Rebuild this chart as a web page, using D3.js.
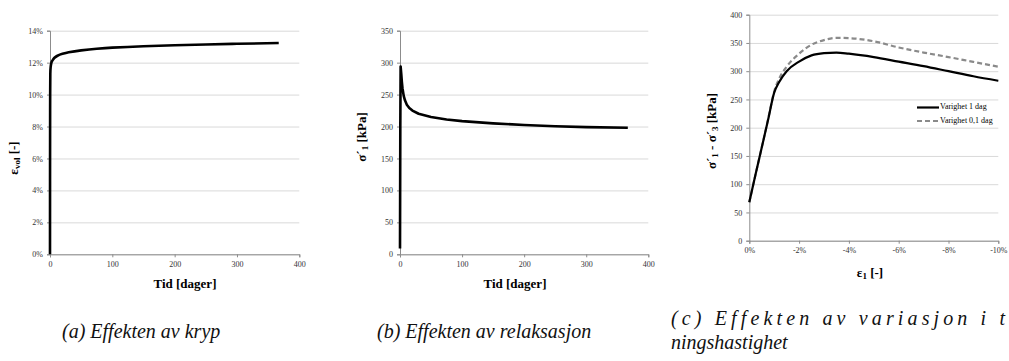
<!DOCTYPE html>
<html>
<head>
<meta charset="utf-8">
<script src="https://cdn.jsdelivr.net/npm/d3@7"></script>
</head>
<body style="margin:0">
<svg id="fig" width="1009" height="361" style="display:block; font-family: 'Liberation Serif', Tinos, 'Times New Roman', Times;"></svg>
<script>
// (a) creep: volumetric strain over time
const creepDays   = [0, 0.2, 0.5, 1, 2, 3, 5, 8, 12, 20, 30, 50, 75, 100, 150, 200, 250, 300, 367];
const creepStrain = [0, 0.090, 0.113, 0.117, 0.1195, 0.1208, 0.122, 0.1233, 0.1243, 0.1255, 0.1265, 0.1277, 0.1287, 0.1294, 0.1303, 0.1309, 0.1314, 0.1318, 0.1323];

// (b) relaxation: effective axial stress over time
const relaxDays   = [0, 0.5, 1, 2, 3, 4, 6, 8, 11, 15, 20, 30, 50, 75, 100, 150, 200, 250, 300, 367];
const relaxStress = [9, 200, 294, 283, 270, 260, 248, 241, 234, 229, 225, 220, 215, 211, 208.5, 205, 202.5, 200.5, 199, 198];

// (c) deviator stress vs axial strain for two load durations
const axialStrain = [0, -0.0025, -0.005, -0.0075, -0.010, -0.012, -0.015, -0.020, -0.025, -0.030, -0.035, -0.040, -0.050, -0.060, -0.070, -0.080, -0.090, -0.100];
const dev1Day     = [68, 117, 165, 213, 262, 281, 300, 317, 328, 332, 333, 331, 325, 317, 309, 300, 291, 283];
const dev01Day    = [68, 117, 165, 214, 264, 287, 308, 331, 347, 355, 359, 358.5, 353, 342, 333, 325, 316.5, 308];
const seriesNames = ["Varighet 1 dag", "Varighet 0,1 dag"];

// tick values
const timeTicks   = [0, 100, 200, 300, 400];
const creepTicks  = [0, 0.02, 0.04, 0.06, 0.08, 0.10, 0.12, 0.14];
const relaxTicks  = [0, 50, 100, 150, 200, 250, 300, 350];
const strainTicks = [0, -0.02, -0.04, -0.06, -0.08, -0.10];
const devTicks    = [0, 50, 100, 150, 200, 250, 300, 350, 400];

// sub-figure captions; the first line of (c) is justified to the given width
const captions = [
  { lines: ["(a) Effekten av kryp"], x: 62, y: [338], len: [null] },
  { lines: ["(b) Effekten av relaksasjon"], x: 377, y: [338], len: [null] },
  { lines: ["(c) Effekten av variasjon i t", "ningshastighet"], x: 671, y: [325, 349], len: [334, null] }
];

const svg = d3.select("#fig");
const GRID = "#d9d9d9", AXIS = "#8c8c8c", TICKTXT = "#333";

function panel(opt) {
  const g = svg.append("g");
  const x = d3.scaleLinear().domain(opt.xDomain).range(opt.xRange);
  const y = d3.scaleLinear().domain(opt.yDomain).range(opt.yRange);

  // horizontal gridlines
  g.append("g")
    .attr("transform", `translate(${opt.xRange[0]},0)`)
    .call(d3.axisLeft(y).tickValues(opt.yTicks).tickSize(-(opt.xRange[1] - opt.xRange[0])).tickFormat(""))
    .call(a => a.attr("font-family", null))
    .call(a => a.select(".domain").remove())
    .call(a => a.selectAll("line").attr("stroke", GRID).attr("stroke-width", 1));

  // y axis (labels inherit the figure's serif face)
  g.append("g")
    .attr("transform", `translate(${opt.xRange[0]},0)`)
    .call(d3.axisLeft(y).tickValues(opt.yTicks).tickSize(3).tickPadding(4).tickFormat(opt.yFormat))
    .call(a => a.attr("font-family", null).attr("font-size", 8))
    .call(a => a.select(".domain").attr("stroke", AXIS))
    .call(a => a.selectAll("line").attr("stroke", AXIS))
    .call(a => a.selectAll("text").attr("fill", TICKTXT));

  // x axis
  g.append("g")
    .attr("transform", `translate(0,${opt.yRange[0]})`)
    .call(d3.axisBottom(x).tickValues(opt.xTicks).tickSize(3).tickPadding(4).tickFormat(opt.xFormat))
    .call(a => a.attr("font-family", null).attr("font-size", 8))
    .call(a => a.select(".domain").attr("stroke", AXIS))
    .call(a => a.selectAll("line").attr("stroke", AXIS))
    .call(a => a.selectAll("text").attr("fill", TICKTXT));

  // axis titles
  const xt = g.append("text")
    .attr("x", opt.xTitlePos[0]).attr("y", opt.xTitlePos[1])
    .attr("text-anchor", "middle").attr("dominant-baseline", "middle")
    .attr("font-weight", "bold").attr("font-size", 13);
  opt.xTitle(xt);

  const yt = g.append("text")
    .attr("transform", `translate(${opt.yTitlePos[0]},${opt.yTitlePos[1]}) rotate(-90)`)
    .attr("text-anchor", "middle").attr("dominant-baseline", "middle")
    .attr("font-weight", "bold").attr("font-size", 13);
  opt.yTitle(yt);

  return { g, x, y };
}

const sub = (t, s, rest) => sel => {
  sel.append("tspan").text(t);
  sel.append("tspan").attr("font-size", 9).attr("dy", 3).text(s);
  sel.append("tspan").attr("dy", -3).text(rest);
};

// ---------- (a) ----------
const A = panel({
  xDomain: [0, 400], xRange: [50, 299.3],
  yDomain: [0, 0.14], yRange: [254.3, 30.7],
  xTicks: timeTicks, yTicks: creepTicks,
  xFormat: d3.format("d"), yFormat: d => Math.round(d * 100) + "%",
  xTitlePos: [185, 285], yTitlePos: [15, 158],
  xTitle: t => t.text("Tid [dager]"),
  yTitle: sub("ε", "vol", " [-]")
});
A.g.append("path")
  .datum(d3.zip(creepDays, creepStrain))
  .attr("fill", "none").attr("stroke", "#000").attr("stroke-width", 2.6).attr("stroke-linejoin", "round")
  .attr("d", d3.line().x(d => A.x(d[0])).y(d => A.y(d[1])).curve(d3.curveMonotoneY));

// ---------- (b) ----------
const B = panel({
  xDomain: [0, 400], xRange: [400, 648.3],
  yDomain: [0, 350], yRange: [254.3, 30.7],
  xTicks: timeTicks, yTicks: relaxTicks,
  xFormat: d3.format("d"), yFormat: d3.format("d"),
  xTitlePos: [515, 285], yTitlePos: [363, 137],
  xTitle: t => t.text("Tid [dager]"),
  yTitle: sub("σ´", "1", " [kPa]")
});
B.g.append("path")
  .datum(d3.zip(relaxDays, relaxStress))
  .attr("fill", "none").attr("stroke", "#000").attr("stroke-width", 2.6).attr("stroke-linejoin", "round")
  .attr("d", d3.line().x(d => B.x(d[0])).y(d => B.y(d[1])));

// ---------- (c) ----------
const C = panel({
  xDomain: [0, -0.10], xRange: [749.3, 998.3],
  yDomain: [0, 400], yRange: [240.7, 14.7],
  xTicks: strainTicks, yTicks: devTicks,
  xFormat: d => Math.round(d * 100) + "%", yFormat: d3.format("d"),
  xTitlePos: [870, 274], yTitlePos: [713, 131],
  xTitle: sub("ε", "1", " [-]"),
  yTitle: sel => {
    sel.append("tspan").text("σ´");
    sel.append("tspan").attr("font-size", 9).attr("dy", 3).text("1");
    sel.append("tspan").attr("dy", -3).text(" - σ´");
    sel.append("tspan").attr("font-size", 9).attr("dy", 3).text("3");
    sel.append("tspan").attr("dy", -3).text(" [kPa]");
  }
});
const lineC = d3.line().x(d => C.x(d[0])).y(d => C.y(d[1])).curve(d3.curveMonotoneX);
C.g.append("path")
  .datum(d3.zip(axialStrain, dev01Day))
  .attr("fill", "none").attr("stroke", "#8a8a8a").attr("stroke-width", 2.2).attr("stroke-dasharray", "5,3")
  .attr("d", lineC);
C.g.append("path")
  .datum(d3.zip(axialStrain, dev1Day))
  .attr("fill", "none").attr("stroke", "#000").attr("stroke-width", 2.2)
  .attr("d", lineC);

// legend
const legend = C.g.append("g").attr("transform", "translate(917,107.5)");
[{ c: "#000", dash: null }, { c: "#8a8a8a", dash: "5,3" }].forEach((s, i) => {
  const row = legend.append("g").attr("transform", `translate(0,${i * 13.5})`);
  row.append("line").attr("x1", 0).attr("x2", 22).attr("stroke", s.c).attr("stroke-width", 2.2)
    .attr("stroke-dasharray", s.dash);
  row.append("text").attr("x", 23).attr("dominant-baseline", "middle")
    .attr("font-size", 8).attr("fill", "#000").text(seriesNames[i]);
});

// captions
captions.forEach(c => {
  c.lines.forEach((ln, i) => {
    const t = svg.append("text")
      .attr("x", c.x).attr("y", c.y[i])
      .attr("font-style", "italic").attr("font-size", 20)
      .attr("fill", "#111")
      .text(ln);
    if (c.len[i]) t.attr("textLength", c.len[i]).attr("lengthAdjust", "spacing");
  });
});
</script>
</body>
</html>
